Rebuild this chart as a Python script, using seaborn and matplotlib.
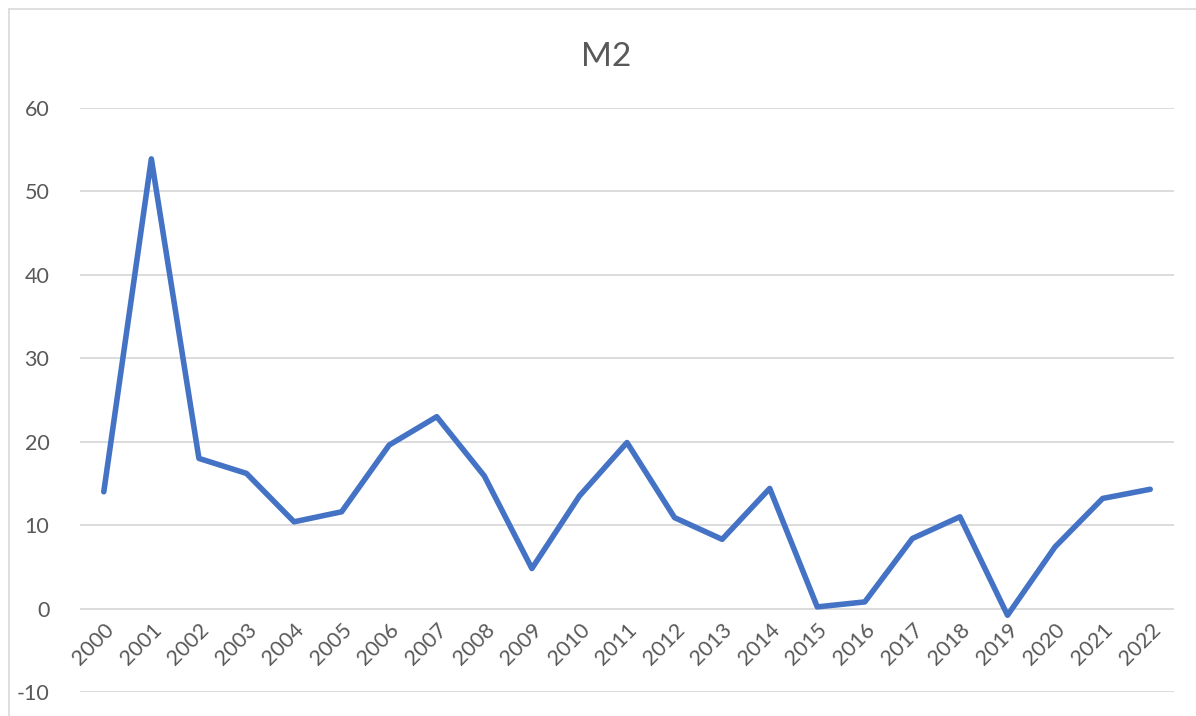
import matplotlib
matplotlib.use("Agg")
import matplotlib.pyplot as plt
from matplotlib.lines import Line2D
import pandas as pd
import seaborn as sns

# data
years = [str(y) for y in range(2000, 2023)]
m2 = [14.0, 53.9, 18.0, 16.2, 10.4, 11.6, 19.6, 23.0, 15.9, 4.8, 13.5, 19.9,
      10.9, 8.3, 14.4, 0.2, 0.8, 8.4, 11.0, -0.8, 7.4, 13.2, 14.3]
yticks = [-10, 0, 10, 20, 30, 40, 50, 60]

sns.set_theme(style="white")
plt.rcParams['font.family'] = ['Lato', 'DejaVu Sans']

text_col = "#595959"
grid_col = "#D9D9D9"

df = pd.DataFrame({"year": years, "M2": m2})

fig = plt.figure(figsize=(11.96, 7.16), dpi=100)
ax = fig.add_axes([80 / 1196, 1 - 692 / 716, (1174 - 80) / 1196, (692 - 108) / 716])

sns.lineplot(data=df, x="year", y="M2", color="#4472C4", linewidth=4,
             ax=ax, sort=False)

ax.set_ylim(-10, 60)
ax.set_xlim(-0.5, len(years) - 0.5)
ax.set_yticks(yticks)
ax.set_yticklabels([str(t) for t in yticks])
for t in yticks:
    ax.axhline(t, color=grid_col, lw=1.3, zorder=0)

# category axis crosses at zero, like the original
ax.spines['bottom'].set_position(('data', 0))
for s in ax.spines.values():
    s.set_visible(False)
ax.tick_params(axis='both', length=0, colors=text_col, labelsize=15.5)
ax.tick_params(axis='y', pad=22)
ax.tick_params(axis='x', pad=8)
ax.set_xticks(range(len(years)))
ax.set_xticklabels(years, rotation=45, ha='right', rotation_mode='anchor')
for lab in ax.get_xticklabels():
    lab.set_color(text_col)
ax.set_xlabel("")
ax.set_ylabel("")

fig.text(0.507, 1 - 57 / 716, "M2", ha='center', va='center',
         fontsize=24, color=text_col)

# chart frame
fig.add_artist(Line2D([9 / 1196, 1], [1 - 9 / 716, 1 - 9 / 716],
                      transform=fig.transFigure, color=grid_col, lw=1.2))
fig.add_artist(Line2D([9 / 1196, 9 / 1196], [0, 1 - 9 / 716],
                      transform=fig.transFigure, color=grid_col, lw=1.2))

fig.savefig("out.png", dpi=100, facecolor="white")
